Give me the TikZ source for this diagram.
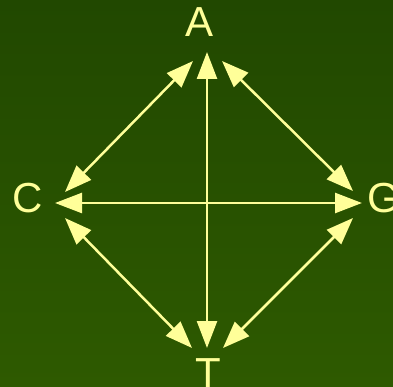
\documentclass[tikz,border=0pt]{standalone}
\usepackage{fontspec}
\setmainfont{Liberation Sans}
\usetikzlibrary{arrows.meta}
\definecolor{bgtop}{RGB}{33,72,0}
\definecolor{bgbot}{RGB}{46,90,0}
\definecolor{ylw}{RGB}{255,255,153}
\tikzset{
  lbl/.style={text=ylw,font=\fontsize{42}{42}\selectfont,inner sep=0pt,anchor=base},
  link/.style={draw=ylw,line width=2.5pt,{Triangle[length=27pt,width=20pt]}-{Triangle[length=27pt,width=20pt]}}
}
\begin{document}
\begin{tikzpicture}[x=1pt,y=-1pt]
\shade[top color=bgtop,bottom color=bgbot] (0,0) rectangle (393,387);
\useasboundingbox (0,0) rectangle (393,387);
\node[lbl] (A) at (199.5,37) {A};
\node[lbl] (C) at (28,213) {C};
\node[lbl] (G) at (384,213) {G};
\node[lbl] (T) at (208,387) {T};
\coordinate (av) at (207,52);
\coordinate (tv) at (207,348);
\coordinate (ch) at (55,203);
\coordinate (gh) at (362,203);
\coordinate (ac1) at (193,61);
\coordinate (ac2) at (65,192);
\coordinate (ag1) at (222,61);
\coordinate (ag2) at (353,191);
\coordinate (ct1) at (65,218);
\coordinate (ct2) at (192,348);
\coordinate (gt1) at (353,218);
\coordinate (gt2) at (223,348);
\draw[link] (av) -- (tv);
\draw[link] (ch) -- (gh);
\draw[link] (ac1) -- (ac2);
\draw[link] (ag1) -- (ag2);
\draw[link] (ct1) -- (ct2);
\draw[link] (gt1) -- (gt2);
\end{tikzpicture}
\end{document}
